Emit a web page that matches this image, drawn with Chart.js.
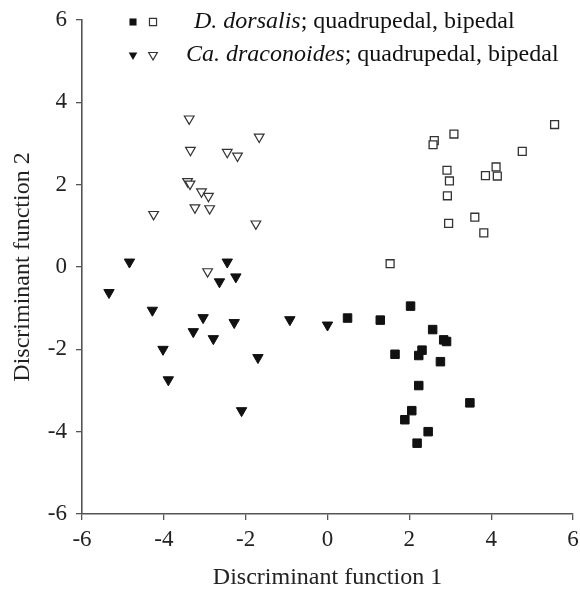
<!DOCTYPE html>
<html>
<head>
<meta charset="utf-8">
<script src="https://cdn.jsdelivr.net/npm/chart.js@4.4.0/dist/chart.umd.min.js"></script>
<style>
  html, body { margin: 0; padding: 0; background: #fff; }
  #wrap { width: 580px; height: 592px; }
</style>
</head>
<body>
<div id="wrap"><canvas id="grafico" width="580" height="592"></canvas></div>
<script>
// D. dorsalis, quadrupedal (filled squares)
var dorsQuadX = [0.49, 1.29, 2.03, 2.57, 2.84, 2.91, 2.31, 2.23, 1.65, 2.76, 2.23, 3.48, 2.06, 1.89, 2.46, 2.19];
var dorsQuadY = [-1.24, -1.29, -0.95, -1.52, -1.77, -1.81, -2.02, -2.15, -2.12, -2.30, -2.88, -3.30, -3.49, -3.71, -4.00, -4.28];
// D. dorsalis, bipedal (open squares)
var dorsBipX = [5.55, 3.09, 2.61, 2.58, 4.76, 2.92, 4.12, 3.86, 4.15, 2.98, 2.93, 3.60, 2.96, 3.82, 1.53];
var dorsBipY = [3.46, 3.23, 3.07, 2.97, 2.81, 2.35, 2.43, 2.22, 2.21, 2.09, 1.73, 1.21, 1.06, 0.83, 0.08];
// Ca. draconoides, quadrupedal (filled triangles)
var dracQuadX = [-4.84, -2.45, -2.24, -2.64, -5.34, -4.28, -3.04, -2.28, -0.92, 0.0, -3.28, -2.79, -4.02, -1.70, -3.89, -2.10];
var dracQuadY = [0.12, 0.12, -0.24, -0.36, -0.62, -1.05, -1.23, -1.35, -1.28, -1.41, -1.57, -1.74, -2.00, -2.20, -2.74, -3.49];
// Ca. draconoides, bipedal (open triangles)
var dracBipX = [-3.38, -1.67, -3.35, -2.45, -2.20, -3.42, -3.36, -3.08, -2.91, -3.24, -2.88, -4.25, -1.75, -2.93];
var dracBipY = [3.60, 3.16, 2.84, 2.79, 2.70, 2.08, 2.02, 1.83, 1.72, 1.44, 1.42, 1.28, 1.05, -0.11];

var ejeTicks = [-6, -4, -2, 0, 2, 4, 6];
var tituloX = 'Discriminant function 1';
var tituloY = 'Discriminant function 2';
var leyenda = [
    { especie: 'D. dorsalis', resto: '; quadrupedal, bipedal', forma: 'rect' },
    { especie: 'Ca. draconoides', resto: '; quadrupedal, bipedal', forma: 'triangle' }
];

function puntos(xs, ys) {
    var out = [];
    for (var i = 0; i < xs.length; i++) {
        out.push({ x: xs[i], y: ys[i] });
    }
    return out;
}

var fuente = 'Liberation Serif, Times New Roman, serif';

// marcador simple para la leyenda
function marcador(ctx, forma, x, y, r, relleno) {
    ctx.save();
    ctx.beginPath();
    if (forma === 'rect') {
        var s = r * Math.SQRT1_2;
        ctx.rect(x - s, y - s, 2 * s, 2 * s);
    } else {
        // triangulo hacia abajo
        ctx.moveTo(x, y + r);
        ctx.lineTo(x - r * Math.sin(Math.PI / 3), y - r / 2);
        ctx.lineTo(x + r * Math.sin(Math.PI / 3), y - r / 2);
        ctx.closePath();
    }
    if (relleno) {
        ctx.fillStyle = '#111';
        ctx.fill();
    } else {
        ctx.fillStyle = '#fff';
        ctx.fill();
        ctx.lineWidth = 1.2;
        ctx.strokeStyle = '#333';
        ctx.stroke();
    }
    ctx.restore();
}

var pluginLeyenda = {
    id: 'leyendaManual',
    afterDraw: function(chart) {
        var ctx = chart.ctx;
        var filas = [22, 55];
        var inicioTexto = [194, 186];
        for (var i = 0; i < leyenda.length; i++) {
            var y = filas[i];
            marcador(ctx, leyenda[i].forma, 133, y, 5, true);
            marcador(ctx, leyenda[i].forma, 153, y, 5, false);
            ctx.save();
            ctx.fillStyle = '#111';
            ctx.textBaseline = 'middle';
            ctx.font = 'italic 24px ' + fuente;
            ctx.fillText(leyenda[i].especie, inicioTexto[i], y);
            var w = ctx.measureText(leyenda[i].especie).width;
            ctx.font = '24px ' + fuente;
            ctx.fillText(leyenda[i].resto, inicioTexto[i] + w, y);
            ctx.restore();
        }
    }
};

var chartdata = {
    datasets: [{
        label: 'D. dorsalis quadrupedal',
        data: puntos(dorsQuadX, dorsQuadY),
        pointStyle: 'rect',
        pointRadius: 6,
        backgroundColor: '#111',
        borderColor: '#111',
        borderWidth: 1
    }, {
        label: 'D. dorsalis bipedal',
        data: puntos(dorsBipX, dorsBipY),
        pointStyle: 'rect',
        pointRadius: 5.6,
        backgroundColor: '#fff',
        borderColor: '#333',
        borderWidth: 1.3
    }, {
        label: 'Ca. draconoides quadrupedal',
        data: puntos(dracQuadX, dracQuadY),
        pointStyle: 'triangle',
        pointRotation: 180,
        pointRadius: 6,
        backgroundColor: '#111',
        borderColor: '#111',
        borderWidth: 1
    }, {
        label: 'Ca. draconoides bipedal',
        data: puntos(dracBipX, dracBipY),
        pointStyle: 'triangle',
        pointRotation: 180,
        pointRadius: 5.6,
        backgroundColor: '#fff',
        borderColor: '#333',
        borderWidth: 1.2
    }]
};

function eje(titulo, alto, esX) {
    return {
        type: 'linear',
        min: -6,
        max: 6,
        afterBuildTicks: function(scale) {
            scale.ticks = ejeTicks.map(function(v) { return { value: v }; });
        },
        afterFit: function(scale) {
            if (esX) {
                scale.height = alto;
            } else {
                scale.width = alto;
            }
            scale.paddingLeft = 0;
            scale.paddingRight = 0;
            scale.paddingTop = 0;
            scale.paddingBottom = 0;
        },
        ticks: {
            color: '#222',
            font: { family: fuente, size: 23 },
            padding: esX ? 6 : 9,
            maxRotation: 0,
            autoSkip: false
        },
        grid: {
            drawOnChartArea: false,
            drawTicks: true,
            tickLength: 6,
            color: '#555',
            lineWidth: 1.3
        },
        border: {
            display: true,
            color: '#555',
            width: 1.6
        },
        title: {
            display: true,
            text: titulo,
            color: '#222',
            font: { family: fuente, size: 24 },
            padding: esX ? { top: 0, bottom: 0 } : { top: 8, bottom: 0 }
        }
    };
}

var grafico = new Chart(document.getElementById('grafico'), {
    type: 'scatter',
    data: chartdata,
    options: {
        responsive: false,
        animation: false,
        events: [],
        layout: {
            padding: { top: 20, right: 4, bottom: 0, left: 0 }
        },
        plugins: {
            legend: { display: false },
            tooltip: { enabled: false }
        },
        scales: {
            x: eje(tituloX, 78, true),
            y: eje(tituloY, 82, false)
        }
    },
    plugins: [pluginLeyenda]
});
</script>
</body>
</html>
